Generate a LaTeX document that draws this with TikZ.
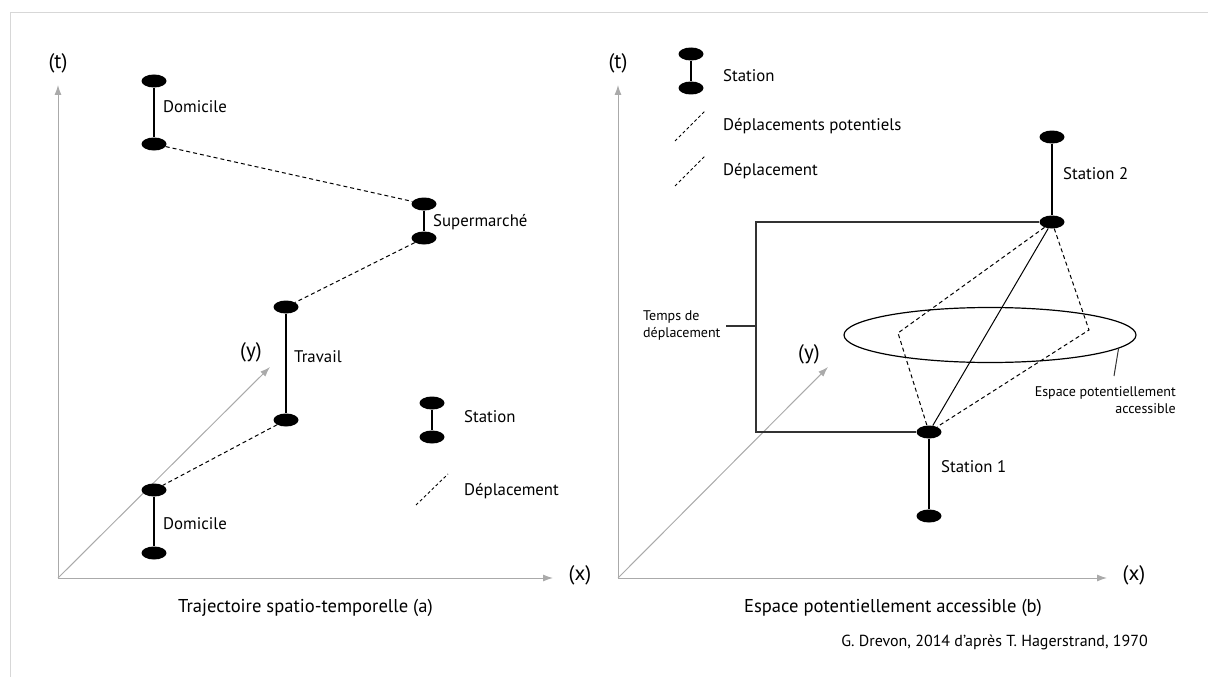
\documentclass[tikz,border=0pt]{standalone}
\usepackage{fontspec}
\setmainfont{PT Sans}
\usetikzlibrary{arrows.meta,shapes.geometric}
\definecolor{axisgray}{RGB}{170,170,170}
\definecolor{framegray}{RGB}{215,215,215}
\definecolor{brk}{RGB}{50,50,50}
\begin{document}
\begin{tikzpicture}[x=1pt,y=-1pt,
 stn/.style={ellipse,fill=black,minimum width=25pt,minimum height=13pt,inner sep=0pt},
 stick/.style={line width=2.8pt},
 dep/.style={line width=1pt,dash pattern=on 4pt off 3pt},
 legdash/.style={line width=0.9pt,dash pattern=on 3pt off 2.5pt},
 axis/.style={draw=axisgray,line width=1pt,-{Latex[length=10pt,width=7pt]}},
 lbl/.style={font=\fontsize{16.8}{19}\selectfont,inner sep=0pt,anchor=west},
 axlbl/.style={font=\fontsize{21}{24}\selectfont,inner sep=0pt},
 captxt/.style={font=\fontsize{18.6}{21}\selectfont,inner sep=0pt},
 small/.style={font=\fontsize{14}{17}\selectfont,inner sep=0pt}
]
\useasboundingbox (0,0) rectangle (1208,677);
% frame
\draw[framegray,line width=1pt] (10,677) -- (10,13) -- (1208,13);

% ================= LEFT PANEL =================
\coordinate (oA) at (58,578);
\coordinate (tA) at (58,85);
\coordinate (xA) at (553,578);
\coordinate (yA) at (270,367);
\draw[axis] (oA) -- (tA);
\draw[axis] (oA) -- (xA);
\draw[axis] (oA) -- (yA);
\node[axlbl] (tLa) at (58,63) {(t)};
\node[axlbl] (xLa) at (580,575) {(x)};
\node[axlbl] (yLa) at (251,352) {(y)};

% stations
\node[stn] (d1t) at (154,81) {};
\node[stn] (d1b) at (154,144) {};
\node[stn] (st) at (424,204) {};
\node[stn] (sb) at (424,238) {};
\node[stn] (tt) at (286,307) {};
\node[stn] (tb) at (286,420) {};
\node[stn] (d2t) at (154,490) {};
\node[stn] (d2b) at (154,553) {};
\draw[stick] (d1t) -- (d1b);
\draw[stick] (st) -- (sb);
\draw[stick] (tt) -- (tb);
\draw[stick] (d2t) -- (d2b);
\draw[dep] (d1b) -- (st);
\draw[dep] (sb) -- (tt);
\draw[dep] (tb) -- (d2t);
\node[lbl] (ld1) at (163,107) {Domicile};
\node[lbl] (lsu) at (433,222) {Supermarché};
\node[lbl] (ltr) at (294,357) {Travail};
\node[lbl] (ld2) at (163,524) {Domicile};

% legend left
\node[stn] (lgat) at (432,403) {};
\node[stn] (lgab) at (432,437) {};
\draw[stick] (lgat) -- (lgab);
\node[lbl] (lgas) at (464,417) {Station};
\coordinate (lgd1) at (416,505);
\coordinate (lgd2) at (448,474);
\draw[legdash] (lgd1) -- (lgd2);
\node[lbl] (lgad) at (464,491) {Déplacement};

\node[captxt] (capa) at (305.5,608) {Trajectoire spatio-temporelle (a)};

% ================= RIGHT PANEL =================
\coordinate (oB) at (618,578);
\coordinate (tB) at (618,85);
\coordinate (xB) at (1107,578);
\coordinate (yB) at (828,367);
\draw[axis] (oB) -- (tB);
\draw[axis] (oB) -- (xB);
\draw[axis] (oB) -- (yB);
\node[axlbl] (tLb) at (618,63) {(t)};
\node[axlbl] (xLb) at (1134,575) {(x)};
\node[axlbl] (yLb) at (809,354) {(y)};

% legend right
\node[stn] (lgbt) at (691,54) {};
\node[stn] (lgbb) at (691,88) {};
\draw[stick] (lgbt) -- (lgbb);
\node[lbl] (lgbs) at (723,76) {Station};
\coordinate (lgp1) at (675,141);
\coordinate (lgp2) at (706,110);
\draw[legdash] (lgp1) -- (lgp2);
\node[lbl] (lgbp) at (723,126) {Déplacements potentiels};
\coordinate (lgq1) at (675,186);
\coordinate (lgq2) at (706,155);
\draw[legdash] (lgq1) -- (lgq2);
\node[lbl] (lgbd) at (723,171) {Déplacement};

% bracket
\node[stn] (s2t) at (1052,137) {};
\node[stn] (s2b) at (1052,222) {};
\node[stn] (s1t) at (929,432) {};
\node[stn] (s1b) at (929,516) {};
\coordinate (bk1) at (756,222);
\coordinate (bk2) at (756,432);
\draw[brk,line width=1.2pt] (s2b.west) -- (bk1) -- (bk2) -- (s1t.west);
\coordinate (tk1) at (756,326);
\coordinate (tk2) at (726,326);
\draw[brk,line width=1.2pt] (tk1) -- (tk2);
\node[small,align=left,anchor=west] (ltd) at (643,325) {Temps de\\déplacement};

% ellipse
\node[draw,ellipse,line width=1.2pt,minimum width=292pt,minimum height=55pt,inner sep=0pt] (esp) at (990,335) {};
\draw[line width=1pt] (s1t) -- (s2b);
\coordinate (qL) at (898,333);
\coordinate (qR) at (1089,330);
\draw[dep] (s2b) -- (qL) -- (s1t);
\draw[dep] (s2b) -- (qR) -- (s1t);
\coordinate (ld) at (1114,376);
\draw[brk,line width=1pt] (esp.-6.7) -- (ld);
\node[small,align=right,anchor=east] (lesp) at (1176,400) {Espace potentiellement\\accessible};

\draw[stick] (s2t) -- (s2b);
\draw[stick] (s1t) -- (s1b);
\node[lbl] (ls2) at (1063,174) {Station 2};
\node[lbl] (ls1) at (941,467) {Station 1};

\node[captxt] (capb) at (893,608) {Espace potentiellement accessible (b)};
\node[font=\fontsize{16}{18}\selectfont,inner sep=0pt,anchor=east] (cred) at (1148,642) {G. Drevon, 2014 d’après T. Hagerstrand, 1970};
\end{tikzpicture}
\end{document}
